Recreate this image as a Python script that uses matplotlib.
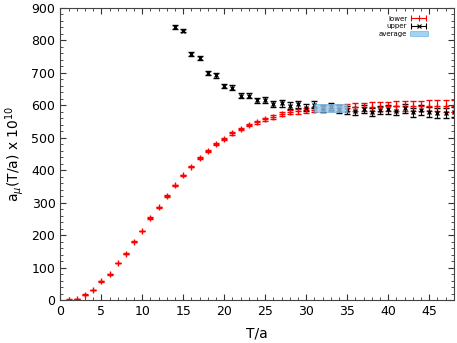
import numpy as np
import matplotlib
matplotlib.use("Agg")
import matplotlib.pyplot as plt
from matplotlib.ticker import MultipleLocator
from matplotlib.legend_handler import HandlerErrorbar
import matplotlib.patches as patches

# lower estimate (red)
x_lower = list(range(1, 49))
y_lower = [1, 4, 17, 31, 58, 79, 114, 143, 180, 213, 253, 286, 321, 354, 384, 411,
           437, 459, 482, 497, 514, 527, 539, 548, 557, 565, 572, 579, 581, 584, 587, 589,
           591, 592, 593, 594, 595, 596, 596, 597, 597, 598, 598, 598, 598, 598, 598, 598]
e_lower = [1, 1, 1, 1, 1, 1, 1, 1, 1, 1, 2, 2, 2, 2, 2, 2,
           3, 3, 3, 3, 4, 4, 4, 5, 5, 6, 6, 7, 7, 8, 8, 9,
           10, 10, 11, 12, 12, 13, 14, 14, 15, 15, 16, 16, 17, 17, 18, 18]

# upper estimate (black)
x_upper = list(range(14, 49))
y_upper = [841, 830, 757, 747, 699, 692, 660, 654, 629, 630, 615, 617, 605, 606, 599, 603,
           592, 602, 590, 596, 588, 586, 583, 588, 580, 586, 588, 583, 591, 579, 586, 579,
           576, 576, 579]
e_upper = [5, 5, 6, 6, 6, 7, 7, 7, 8, 8, 8, 9, 9, 10, 10, 11,
           11, 11, 12, 12, 12, 12, 13, 13, 13, 13, 14, 14, 14, 14, 15, 15,
           15, 15, 15]

# average band
avg_x = [31, 35]
avg_val = 591
avg_err = 13

fig = plt.figure(figsize=(4.57, 3.43), dpi=100)
ax = fig.add_axes([0.132, 0.125, 0.861, 0.852])

ax.errorbar(x_lower, y_lower, yerr=e_lower, fmt='+', color='red', ms=4, mew=1.0,
            elinewidth=0.8, capsize=2, capthick=0.8)
ax.errorbar(x_upper, y_upper, yerr=e_upper, fmt='x', color='black', ms=3.5, mew=1.0,
            elinewidth=0.8, capsize=2, capthick=0.8)
band = ax.fill_between(avg_x, avg_val - avg_err, avg_val + avg_err, color='#8cc8ee', alpha=0.8,
                       edgecolor='#5aa8dc', lw=0.5, zorder=3)

# legend proxies with horizontal bars
h_low = ax.errorbar([np.nan], [np.nan], xerr=[1], fmt='+', color='red', ms=4, mew=0.8,
                    elinewidth=0.8, capsize=2, capthick=0.8)
h_up = ax.errorbar([np.nan], [np.nan], xerr=[1], fmt='x', color='black', ms=3.5, mew=0.8,
                   elinewidth=0.8, capsize=2, capthick=0.8)

ax.set_xlim(0, 48)
ax.set_ylim(0, 900)
ax.xaxis.set_major_locator(MultipleLocator(5))
ax.xaxis.set_minor_locator(MultipleLocator(1))
ax.yaxis.set_major_locator(MultipleLocator(100))
ax.yaxis.set_minor_locator(MultipleLocator(20))
ax.tick_params(which='both', direction='in', top=True, right=True, labelsize=9, color='#333333')
ax.tick_params(which='major', length=4)
ax.tick_params(which='minor', length=2)
for s in ax.spines.values():
    s.set_color('#444444')

ax.set_xlabel('T/a', fontsize=10, labelpad=6)
ax.set_ylabel(r'a$_{\mu}$(T/a) x 10$^{10}$', fontsize=10)

hm = {h_low: HandlerErrorbar(xerr_size=1.1), h_up: HandlerErrorbar(xerr_size=1.1)}
ax.legend([h_low, h_up, band], ['lower', 'upper', 'average'], handler_map=hm,
          loc='upper right', bbox_to_anchor=(0.95, 0.995), fontsize=5, frameon=False,
          markerfirst=False, handlelength=2.6, handletextpad=0.4, labelspacing=0.25)

fig.savefig('out.png', dpi=100)
